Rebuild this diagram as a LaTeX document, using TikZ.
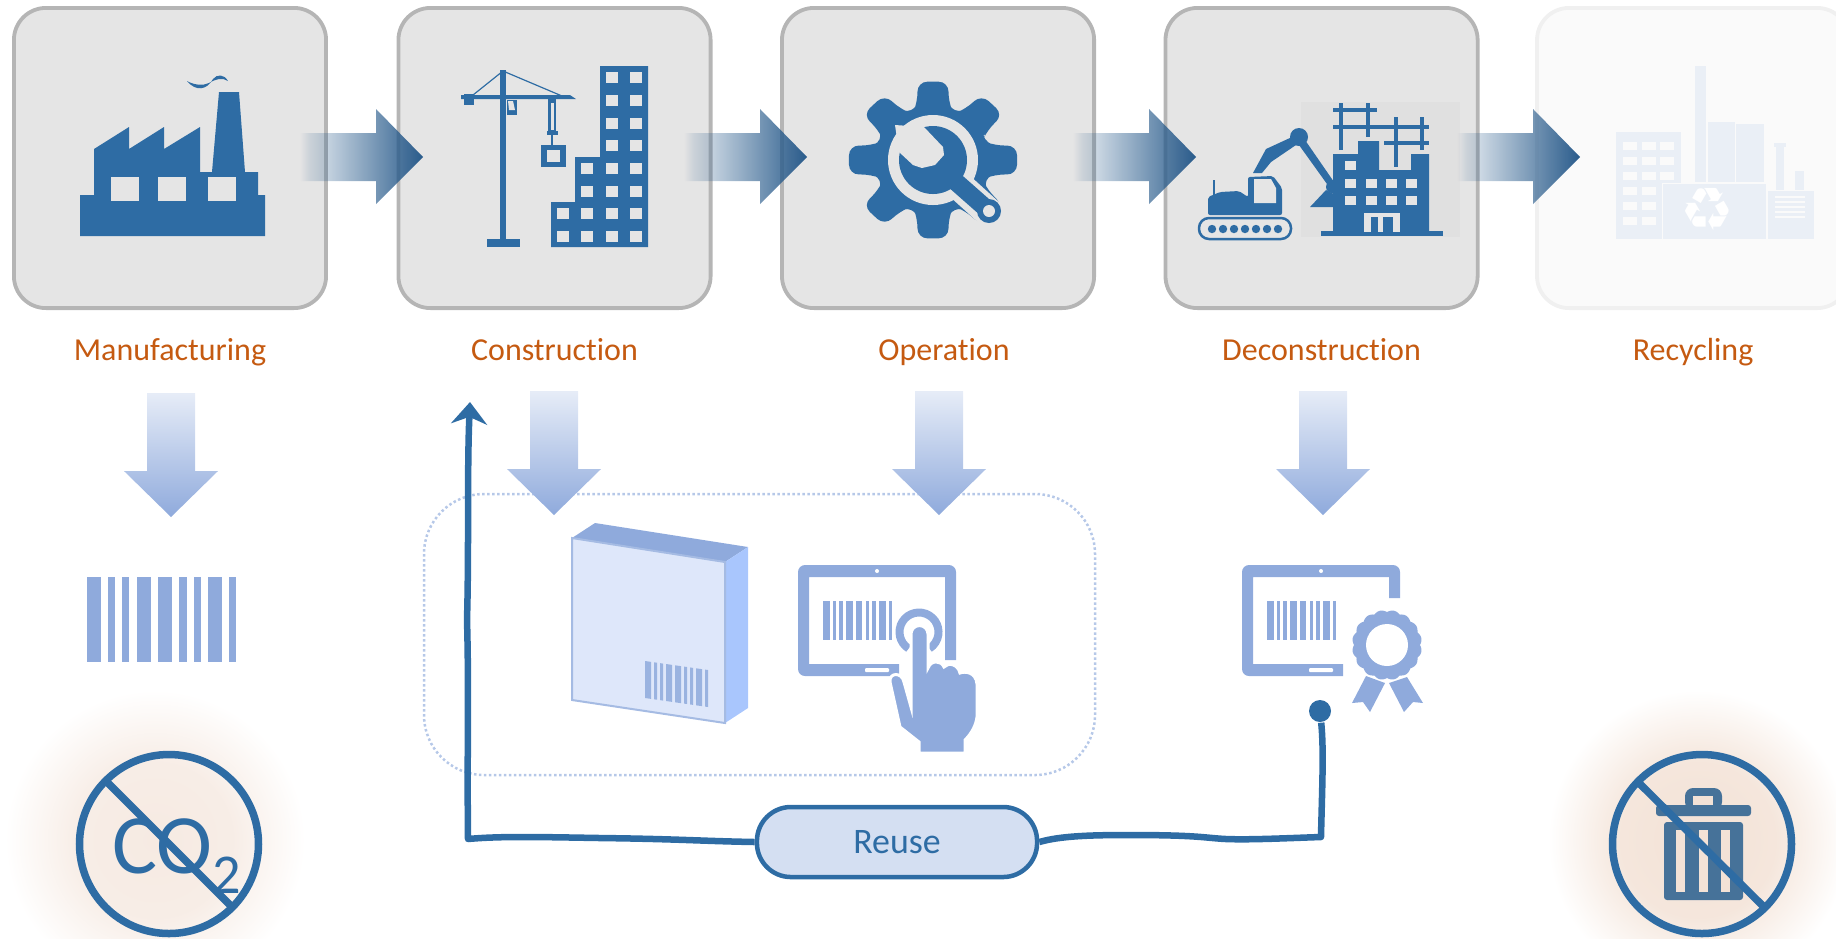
\documentclass[tikz,border=0pt]{standalone}
\usepackage{fontspec}
\setmainfont[Ligatures=NoCommon]{Carlito}
\newfontfamily\symbolfont{DejaVu Sans}
\usetikzlibrary{positioning,fadings,arrows.meta}

\definecolor{iconblue}{HTML}{2E6CA4}
\definecolor{paleblue}{HTML}{8FAADC}
\definecolor{boxgrey}{HTML}{E5E5E5}
\definecolor{boxline}{HTML}{B5B5B5}
\definecolor{arrowblue}{HTML}{2A5C8C}
\definecolor{labelorange}{HTML}{C55A11}
\definecolor{ghostfill}{HTML}{FAFAFA}
\definecolor{ghostline}{HTML}{F0F0F0}
\definecolor{ghosticon}{HTML}{EAEFF6}
\definecolor{glowpeach}{HTML}{F3E2D6}
\definecolor{glowpale}{HTML}{F6EAE2}

\pgfdeclarehorizontalshading{fadeshade}{100bp}{color(0bp)=(black); color(25bp)=(black); color(29bp)=(black!86); color(75bp)=(white); color(100bp)=(white)}
\tikzfading[name=fadearrow, shading=fadeshade]
\pgfdeclareradialshading{glowshade}{\pgfpoint{0bp}{0bp}}{color(0bp)=(glowpeach); color(13bp)=(glowpeach!85!white); color(25bp)=(white); color(50bp)=(white)}
\pgfdeclareradialshading{paleglowshade}{\pgfpoint{0bp}{0bp}}{color(0bp)=(glowpale); color(13bp)=(glowpale!85!white); color(25bp)=(white); color(50bp)=(white)}

\tikzset{
    stepbox/.style={draw=boxline, fill=boxgrey, line width=.38mm, rounded corners=3.2mm,
        minimum width=3.12cm, minimum height=3cm, inner sep=0pt},
    steplabel/.style={text=labelorange, font=\fontsize{9.1}{11}\selectfont, text height=6.5pt, text depth=2pt, inner sep=0pt},
    flowarrow/.style={fill=arrowblue, path fading=fadearrow},
    downarrow/.style={top color=paleblue!22!white, bottom color=paleblue},
    reuseline/.style={draw=iconblue, line width=.65mm, line join=round},
    noring/.style={draw=iconblue, line width=.75mm},
}

\newcommand{\barcodebars}[4]{
    \foreach \a/\b in {0/2,3/4,5/6,7/9,10/12,13/14,15/16,17/19,20/21}
        \fill (#1+\a*#3,#2) rectangle (#1+\b*#3,#2+#4);
}
\newcommand{\tabletframe}[2]{
    \fill[paleblue, rounded corners=.7mm] (#1+158,#2) -- (#1+158,565) -- (#1,565) -- (#1,676)
        [sharp corners] -- (#1+101,676) -- (#1+101,664) -- (#1+11,664) -- (#1+11,577) -- (#1+147,577) -- (#1+147,#2) -- cycle;
    \fill[white] (#1+79,571) circle[radius=2];
    \fill[white, rounded corners=.1mm] (#1+67,668) rectangle (#1+91,672);
    \begin{scope}[paleblue]
        \barcodebars{#1+25}{601}{3.29}{39}
    \end{scope}
}

\begin{document}
\begin{tikzpicture}[x=.01cm, y=-.01cm]
    \useasboundingbox (0,0) rectangle (1836,938);
    \clip (0,0) rectangle (1836,938);

    \node[stepbox] (manufacturing) at (170,158) {};
    \node[stepbox, right=.685cm of manufacturing] (construction) {};
    \node[stepbox, right=.675cm of construction] (operation) {};
    \node[stepbox, right=.675cm of operation] (deconstruction) {};
    \node[stepbox, right=.555cm of deconstruction, draw=ghostline, fill=ghostfill] (recycling) {};

    \node[steplabel, below=.27cm of manufacturing] (manufacturinglabel) {Manufacturing};
    \node[steplabel, below=.27cm of construction] (constructionlabel) {Construction};
    \node[steplabel, below=.27cm of operation, xshift=.06cm] (operationlabel) {Operation};
    \node[steplabel, below=.27cm of deconstruction] (deconstructionlabel) {Deconstruction};
    \node[steplabel, below=.27cm of recycling] (recyclinglabel) {Recycling};

    \fill[iconblue] (80,236) -- (80,195) -- (94,195) -- (94,149) -- (129,127) -- (129,149) -- (164,127) -- (164,149)
        -- (200,127) -- (200,172) -- (212,172) -- (219,92) -- (239,92) -- (245,172) -- (258,172) -- (258,195)
        -- (265,195) -- (265,236) -- cycle;
    \foreach \x in {111,158,208}
        \fill[boxgrey] (\x,177) rectangle (\x+28,201);
    \fill[iconblue] (187,81) .. controls (196,92) and (207,90) .. (213,79) .. controls (217,74) and (224,74) .. (228,81)
        .. controls (222,77) and (216,79) .. (209,83) .. controls (203,86) and (194,85) .. cycle;

    \fill[iconblue] (500,70) rectangle (506,240);
    \fill[iconblue] (487,239) rectangle (520,247);
    \fill[iconblue] (461,95) -- (570,95) -- (576,99) -- (461,99) -- cycle;
    \fill[iconblue] (464,94) rectangle (474,105);
    \draw[iconblue, line width=.12mm] (473,95) -- (503,71) -- (562,96);
    \fill[iconblue] (507,100) rectangle (517,115);
    \fill[boxgrey] (508,101) -- (513,101) -- (515,110) -- (509,110) -- cycle;
    \fill[iconblue] (548,99) rectangle (556,132);
    \fill[boxgrey] (550.5,103) rectangle (553.5,130);
    \fill[iconblue] (547,131) rectangle (558,135);
    \fill[iconblue] (551,135) rectangle (553,146);
    \fill[iconblue] (541,145) rectangle (566,167);
    \fill[boxgrey] (547,150) rectangle (560,162);
    \fill[iconblue] (551,247) -- (551,202) -- (575,202) -- (575,157) -- (600,157) -- (600,66) -- (648,66) -- (648,247) -- cycle;
    \foreach \x in {612,636}
        \foreach \y in {77,100,123,145,168,191,213,236}
            \fill[boxgrey] (\x-6,\y-5.5) rectangle (\x+6,\y+5.5);
    \foreach \y in {168,191,213,236}
        \fill[boxgrey] (581,\y-5.5) rectangle (593,\y+5.5);
    \foreach \y in {213,236}
        \fill[boxgrey] (557,\y-5.5) rectangle (569,\y+5.5);

    \begin{scope}[shift={(933,160)}]
        \begin{scope}[xscale=1.03, yscale=.96]
            \fill[iconblue, rounded corners=1mm] (-22.5:52) \foreach \a in {0,45,...,315} {
                -- (\a-22.5:52) -- (\a-14:62) -- (\a-10.5:83) -- (\a+10.5:83) -- (\a+14:62)
            } -- cycle;
        \end{scope}
        \fill[boxgrey] (0,0) circle[radius=45];
        \draw[boxgrey, line width=2.9mm] (20,20) -- (62,58);
        \fill[iconblue] (0,0) circle[radius=34];
        \fill[boxgrey] (-9,-33) -- (10,-13) -- (11,-5) -- (2,5) -- (-11,8) -- (-20,5) -- (-34,-8) -- (-38,-35) -- cycle;
        \draw[iconblue, line width=1.8mm] (14,14) -- (56,51);
        \fill[iconblue] (56,51) circle[radius=12];
        \fill[boxgrey] (56,51) circle[radius=6];
    \end{scope}

    \fill[boxgrey!98!black] (1301,102) rectangle (1460,237);
    \draw[iconblue, line width=.25mm, rounded corners=1mm] (1199,218) rectangle (1291,239);
    \foreach \x in {0,...,6}
        \fill[iconblue] (1212+\x*11,229) circle[radius=4.2];
    \fill[iconblue, rounded corners=.2mm] (1208,215) -- (1208,197) -- (1220,192) -- (1239,191) -- (1248,197) -- (1248,177)
        -- (1273,176) -- (1282,188) -- (1282,215) -- cycle;
    \fill[boxgrey] (1254,179) -- (1271,179) -- (1276,188) -- (1276,203) -- (1254,203) -- cycle;
    \draw[iconblue, line width=.12mm] (1214,180) -- (1214,195);
    \fill[iconblue] (1253,173) -- (1266,149) -- (1292,137) -- (1296,145) -- (1271,162) -- (1262,173) -- cycle;
    \fill[iconblue] (1305,140) -- (1334,182) -- (1327,184) -- (1299,145) -- cycle;
    \fill[iconblue] (1299,137) circle[radius=9];
    \fill[iconblue] (1310,207) -- (1326,190) -- (1340,197) -- (1335,207) -- cycle;
    \fill[iconblue] (1332,187) circle[radius=6];

    \fill[iconblue] (1333,232) -- (1333,154) -- (1358,154) -- (1358,141) -- (1379,141) -- (1379,170) -- (1411,170)
        -- (1411,154) -- (1429,154) -- (1429,232) -- cycle;
    \fill[iconblue] (1321,231) rectangle (1443,236);
    \draw[iconblue, line width=.45mm] (1333,110) -- (1377,110) (1333,127) -- (1429,127) (1384,143) -- (1429,143)
        (1341,103) -- (1341,150) (1368,103) -- (1368,137) (1396,117) -- (1396,167) (1422,117) -- (1422,150);
    \foreach \x/\y in {1350/165,1350/183,1371/183,1391/183,1411/183,1350/200,1371/200,1391/200,1411/200}
        \fill[boxgrey] (\x-5.5,\y-4.5) rectangle (\x+5.5,\y+4.5);
    \fill[boxgrey] (1364,213) rectangle (1400,232);
    \fill[iconblue] (1371,217) rectangle (1378,232);
    \fill[iconblue] (1383,217) rectangle (1393,232);

    \fill[ghosticon] (1616,132) rectangle (1681,239);
    \foreach \y in {146,161,176,191,206,221} {
        \fill[ghostfill] (1623,\y-4) rectangle (1637,\y+4);
        \fill[ghostfill] (1642,\y-4) rectangle (1656,\y+4);
    }
    \foreach \y in {146,161,176}
        \fill[ghostfill] (1660,\y-4) rectangle (1674,\y+4);
    \fill[ghosticon] (1695,66) rectangle (1706,182);
    \fill[ghosticon] (1708,122) rectangle (1735,182);
    \fill[ghosticon] (1736,124) rectangle (1764,182);
    \fill[ghosticon, draw=ghostfill, line width=.08mm] (1662,183) rectangle (1766,239);
    \fill[ghosticon] (1768,191) rectangle (1814,239);
    \fill[ghosticon] (1776,145) rectangle (1784,190);
    \fill[ghosticon] (1774,143) rectangle (1786,147);
    \fill[ghosticon] (1795,171) rectangle (1804,190);
    \foreach \y in {197,202,207,212,217}
        \fill[ghostfill] (1775,\y-.8) rectangle (1805,\y+.8);
    \node[text=white, font=\symbolfont\fontsize{17}{17}\selectfont, inner sep=0pt] (recyclesign) at (1707,209) {♻};

    \foreach \x in {300,684,1073,1457}
        \fill[flowarrow] (\x,133) -- (\x+76,133) -- (\x+76,109) -- (\x+123,157) -- (\x+76,204) -- (\x+76,181) -- (\x,181) -- cycle;

    \draw[paleblue!65!white, line width=.25mm, dash pattern=on .25mm off .25mm, rounded corners=6mm] (424,494) rectangle (1095,775);

    \foreach \x/\y in {171/393,554/391,939/391,1323/391}
        \shade[downarrow] (\x-24,\y) -- (\x+24,\y) -- (\x+24,\y+78) -- (\x+47,\y+78) -- (\x,\y+124) -- (\x-47,\y+78) -- (\x-24,\y+78) -- cycle;

    \begin{scope}[paleblue]
        \barcodebars{86.7}{577}{7.13}{85}
    \end{scope}

    \fill[paleblue] (572,538) -- (595,523) -- (748,547) -- (725,562) -- cycle;
    \fill[fill={rgb,255:red,169;green,198;blue,253}] (725,562) -- (748,547) -- (748,708) -- (725,723) -- cycle;
    \draw[paleblue!80!white, fill={rgb,255:red,222;green,231;blue,250}, line width=.2mm] (572,538) -- (725,562) -- (725,723) -- (572,700) -- cycle;
    \begin{scope}[shift={(645,661)}, yslant=-.143, paleblue, opacity=.85]
        \barcodebars{0}{0}{3}{37}
    \end{scope}

    \tabletframe{798}{660}
    \draw[paleblue, line width=.8mm] (919,632) ++(122:19.5) arc[start angle=122, end angle=418, radius=19.5];
    \fill[paleblue, draw=white, line width=.3mm] (911,707) -- (911,634) arc[start angle=180, end angle=360, radius=8.5] -- (928,668)
        .. controls (931,660) and (941,660) .. (944,667) .. controls (948,662) and (958,664) .. (960,673)
        .. controls (965,671) and (976,672) .. (977,684) -- (977,717) .. controls (976,725) and (972,733) .. (965,740)
        -- (965,753) -- (919,753) -- (919,742) -- (900,727) -- (890,682) .. controls (889,672) and (902,672) .. (904,682) -- cycle;

    \tabletframe{1242}{598}
    \fill[paleblue] plot[domain=0:360, samples=145, smooth, variable=\t] ({1387+(33+2*abs(sin(8*\t)))*cos(\t)},{645+(33+2*abs(sin(8*\t)))*sin(\t)}) -- cycle;
    \fill[white] (1387,645) circle[radius=21];
    \fill[paleblue] (1366,676) -- (1385,683) -- (1370,712) -- (1363,702) -- (1352,703) -- cycle;
    \fill[paleblue] (1389,683) -- (1407,677) -- (1423,703) -- (1413,702) -- (1404,712) -- cycle;

    \shade[shading=paleglowshade] (155,840) circle[radius=150];
    \node[text=iconblue, inner sep=0pt, font=\fontsize{24}{24}\selectfont] (cotwo) at (177,856) {CO\raisebox{-5.7pt}{\fontsize{16}{16}\selectfont 2}};
    \draw[noring] (169,844) circle[radius=89.5];
    \draw[noring] (107,782) -- (232,907);

    \shade[shading=glowshade] (1698,840) circle[radius=150];
    \fill[iconblue!70!gray, rounded corners=.8mm] (1685,810) -- (1685,788) -- (1722,788) -- (1722,810) -- cycle;
    \fill[glowpeach] (1693,796) rectangle (1713,805);
    \fill[iconblue!70!gray, rounded corners=.3mm] (1656,816) -- (1656,805) -- (1751,805) -- (1751,816) -- cycle;
    \fill[iconblue!70!gray, rounded corners=.3mm] (1664,822) -- (1743,822) -- (1743,900) -- (1664,900) -- cycle;
    \foreach \x in {1676,1699,1721}
        \fill[glowpeach] (\x,830) rectangle (\x+9,892);
    \draw[noring] (1702,844) circle[radius=89.5];
    \draw[noring] (1638,782) -- (1764,907);

    \node[draw=iconblue, fill=paleblue!38!white, line width=.45mm, rounded corners=3.4mm, minimum width=2.8cm, minimum height=.7cm,
        text=iconblue, font=\fontsize{10.2}{12}\selectfont] (reuse) at (897,842) {Reuse};
    \node[circle, fill=iconblue, inner sep=0pt, minimum size=.22cm] (reusedot) at (1320,711) {};
    \coordinate (leftcorner) at (468,839);
    \coordinate (rightcorner) at (1321,837);
    \coordinate (leftend) at (470,402);
    \draw[reuseline] (reusedot) .. controls (1324,750) and (1322,790) .. (rightcorner) .. controls (1290,838) and (1250,840) .. (1226,839)
        .. controls (1205,838) and (1200,835) .. (1129,835) .. controls (1090,835) and (1060,836) .. (reuse.east);
    \draw[reuseline, -{Stealth[length=2.2mm,width=3.6mm]}] (reuse.west) .. controls (700,841) and (680,839) .. (600,838)
        .. controls (540,837) and (500,836) .. (leftcorner) .. controls (467,750) and (469,690) .. (467,620)
        .. controls (469,550) and (467,470) .. (leftend);
\end{tikzpicture}
\end{document}
